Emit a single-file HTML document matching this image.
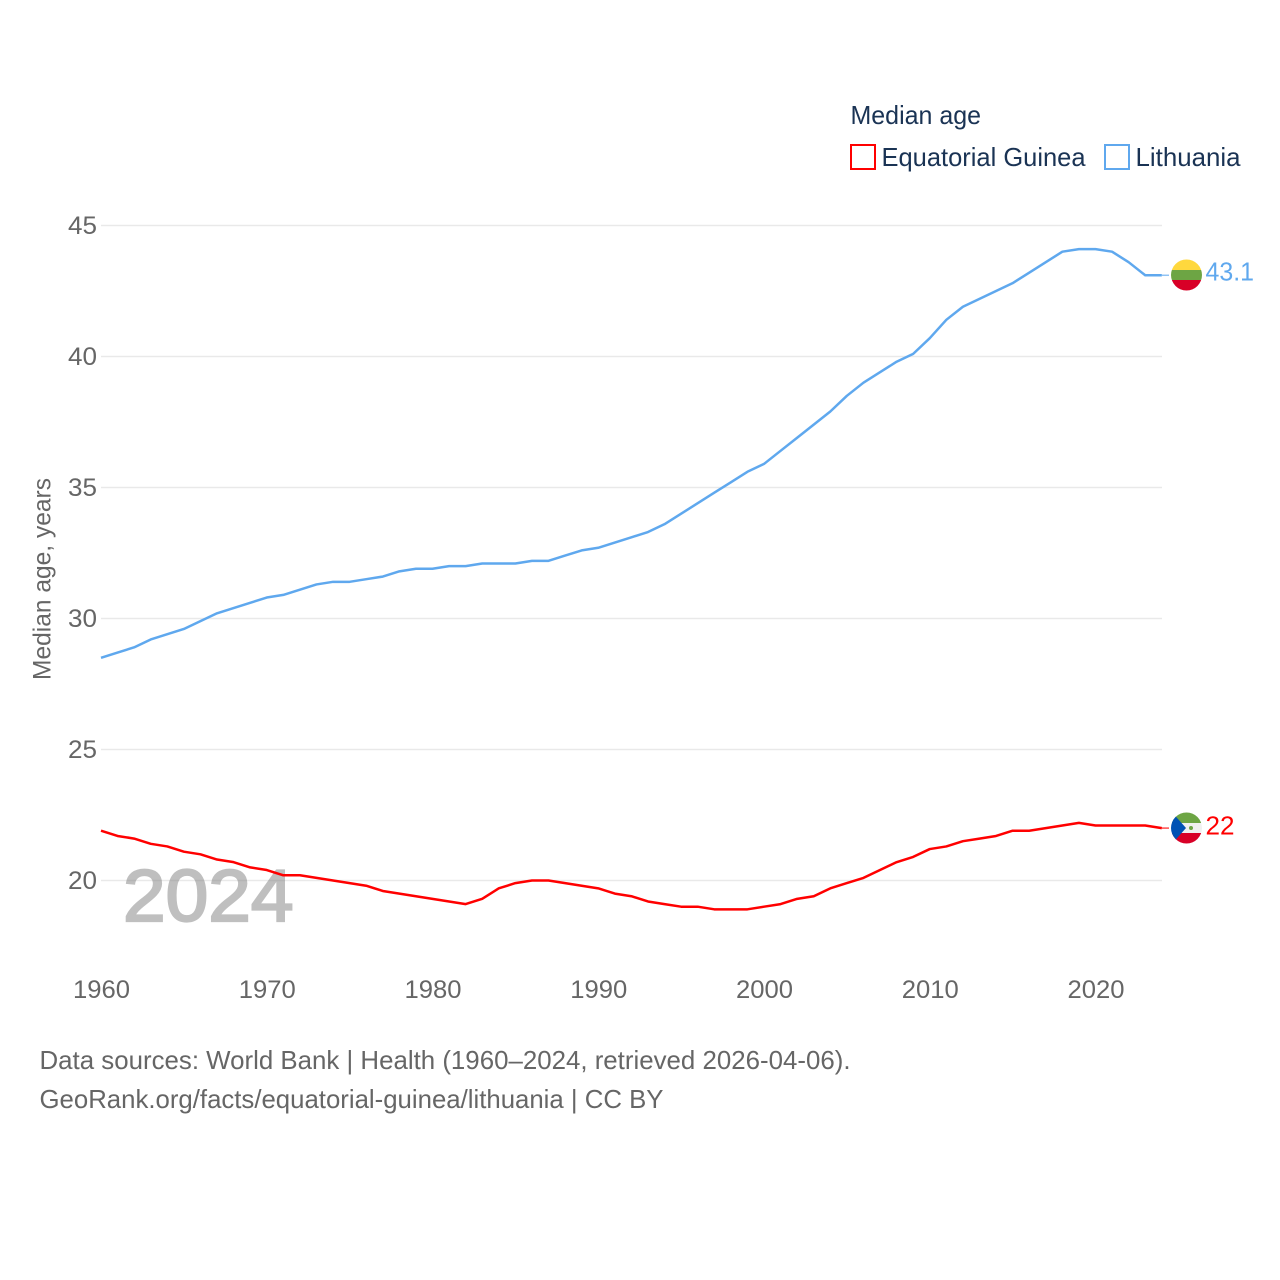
<!DOCTYPE html>
<html lang="en">
<head>
<meta charset="utf-8">
<title>Median age: Equatorial Guinea and Lithuania</title>
<style>
html,body{margin:0;padding:0;background:#fff;width:1280px;height:1280px;overflow:hidden}
svg{display:block}
text{font-family:"Liberation Sans",sans-serif}
</style>
</head>
<body>
<svg id="chart" xmlns="http://www.w3.org/2000/svg" width="1280" height="1280" viewBox="0 0 1280 1280">
  <rect width="1280" height="1280" fill="#fff"/>
  <g id="grid"></g>
  <text x="123" y="921" font-size="73" fill="#808080" stroke="#808080" stroke-width="2.2" opacity="0.5" textLength="170.5" lengthAdjust="spacingAndGlyphs">2024</text>
  <g id="yticks"></g>
  <g id="xticks"></g>
  <text transform="translate(50.5,680) rotate(-90)" font-size="25" fill="#666666" textLength="202" lengthAdjust="spacingAndGlyphs">Median age, years</text>
  <g id="series"></g>

  <g>
    <text x="850.5" y="124" font-size="26" fill="#1a3354" textLength="130.5" lengthAdjust="spacingAndGlyphs">Median age</text>
    <g>
      <rect x="851" y="145" width="24" height="24" fill="#fff" stroke="#ff0000" stroke-width="2"/>
      <text x="881.5" y="166" font-size="26" fill="#1a3354" textLength="204" lengthAdjust="spacingAndGlyphs">Equatorial Guinea</text>
    </g>
    <g>
      <rect x="1105" y="145" width="24" height="24" fill="#fff" stroke="#5fa8ee" stroke-width="2"/>
      <text x="1135.5" y="166" font-size="26" fill="#1a3354" textLength="105" lengthAdjust="spacingAndGlyphs">Lithuania</text>
    </g>
  </g>

  <defs>
    <clipPath id="clip-lt"><circle cx="1186.5" cy="275" r="15.5"/></clipPath>
    <clipPath id="clip-gq"><circle cx="1186.5" cy="828" r="15.5"/></clipPath>
  </defs>
  <g clip-path="url(#clip-lt)">
    <rect x="1170" y="259" width="34" height="11" fill="#ffd83d"/>
    <rect x="1170" y="270" width="34" height="10" fill="#6da544"/>
    <rect x="1170" y="280" width="34" height="12" fill="#d80027"/>
  </g>
  <g clip-path="url(#clip-gq)">
    <rect x="1170" y="812" width="34" height="11" fill="#6da544"/>
    <rect x="1170" y="823" width="34" height="10" fill="#f0f0f0"/>
    <rect x="1170" y="833" width="34" height="12" fill="#d80027"/>
    <polygon points="1170,810 1186,828 1170,846" fill="#0052b4"/>
    <circle cx="1191" cy="828" r="2" fill="#6da544"/>
  </g>
  <text x="1205.5" y="280.5" font-size="26" fill="#5fa8ee" textLength="48.5" lengthAdjust="spacingAndGlyphs">43.1</text>
  <text x="1205.5" y="834.5" font-size="26" fill="#ff0000" textLength="29" lengthAdjust="spacingAndGlyphs">22</text>

  <g>
    <text x="39.5" y="1069" font-size="26" fill="#666666" textLength="811" lengthAdjust="spacingAndGlyphs">Data sources: World Bank | Health (1960–2024, retrieved 2026-04-06).</text>
    <text x="39.5" y="1108" font-size="26" fill="#666666" textLength="624" lengthAdjust="spacingAndGlyphs">GeoRank.org/facts/equatorial-guinea/lithuania | CC BY</text>
  </g>
</svg>
<script>
const startYear = 1960;
const lithuaniaValues = [28.5,28.7,28.9,29.2,29.4,29.6,29.9,30.2,30.4,30.6,30.8,30.9,31.1,31.3,31.4,31.4,31.5,31.6,31.8,31.9,31.9,32.0,32.0,32.1,32.1,32.1,32.2,32.2,32.4,32.6,32.7,32.9,33.1,33.3,33.6,34.0,34.4,34.8,35.2,35.6,35.9,36.4,36.9,37.4,37.9,38.5,39.0,39.4,39.8,40.1,40.7,41.4,41.9,42.2,42.5,42.8,43.2,43.6,44.0,44.1,44.1,44.0,43.6,43.1,43.1];
const equatorialGuineaValues = [21.9,21.7,21.6,21.4,21.3,21.1,21.0,20.8,20.7,20.5,20.4,20.2,20.2,20.1,20.0,19.9,19.8,19.6,19.5,19.4,19.3,19.2,19.1,19.3,19.7,19.9,20.0,20.0,19.9,19.8,19.7,19.5,19.4,19.2,19.1,19.0,19.0,18.9,18.9,18.9,19.0,19.1,19.3,19.4,19.7,19.9,20.1,20.4,20.7,20.9,21.2,21.3,21.5,21.6,21.7,21.9,21.9,22.0,22.1,22.2,22.1,22.1,22.1,22.1,22.0];
const yTickValues = [20,25,30,35,40,45];
const xTickValues = [1960,1970,1980,1990,2000,2010,2020];

const NS = 'http://www.w3.org/2000/svg';
function xScale(year){ return 101 + (year - 1960) * (1095.5 - 101) / 60; }
function yScale(v){ return 880.5 - (v - 20) * (880.5 - 225.5) / 25; }

const gridGroup = document.getElementById('grid');
const yTickGroup = document.getElementById('yticks');
const xTickGroup = document.getElementById('xticks');
const seriesGroup = document.getElementById('series');

yTickValues.forEach(function(v){
  const line = document.createElementNS(NS,'line');
  
  
  line.setAttribute('x1', 101);
  line.setAttribute('x2', 1162);
  line.setAttribute('y1', yScale(v));
  line.setAttribute('y2', yScale(v));
  line.setAttribute('stroke', '#e9e9e9');
  line.setAttribute('stroke-width', '1.5');
  gridGroup.appendChild(line);

  const label = document.createElementNS(NS,'text');
  
  
  label.setAttribute('x', 68);
  label.setAttribute('y', yScale(v) + 8.5);
  label.setAttribute('font-size', '25');
  label.setAttribute('fill', '#666666');
  label.setAttribute('textLength', '29');
  label.setAttribute('lengthAdjust', 'spacingAndGlyphs');
  label.textContent = v;
  yTickGroup.appendChild(label);
});

xTickValues.forEach(function(yr){
  const label = document.createElementNS(NS,'text');
  
  
  label.setAttribute('x', xScale(yr) - 28);
  label.setAttribute('y', 998);
  label.setAttribute('font-size', '25');
  label.setAttribute('fill', '#666666');
  label.setAttribute('textLength', '57');
  label.setAttribute('lengthAdjust', 'spacingAndGlyphs');
  label.textContent = yr;
  xTickGroup.appendChild(label);
});

function drawSeries(values, color, name){
  const pts = values.map(function(v,i){
    return xScale(startYear + i).toFixed(2) + ',' + yScale(v).toFixed(2);
  }).join(' ');
  const line = document.createElementNS(NS,'polyline');
  
  
  line.setAttribute('points', pts);
  line.setAttribute('fill', 'none');
  line.setAttribute('stroke', color);
  line.setAttribute('stroke-width', '2.5');
  line.setAttribute('stroke-linejoin', 'round');
  seriesGroup.appendChild(line);

  const last = values[values.length - 1];
  const stub = document.createElementNS(NS,'line');
  
  
  stub.setAttribute('x1', xScale(startYear + values.length - 1));
  stub.setAttribute('x2', 1169);
  stub.setAttribute('y1', yScale(last));
  stub.setAttribute('y2', yScale(last));
  stub.setAttribute('stroke', color);
  stub.setAttribute('stroke-width', '1.5');
  stub.setAttribute('stroke-opacity', '0.7');
  seriesGroup.appendChild(stub);
}
drawSeries(equatorialGuineaValues, '#ff0000', 'line-equatorial-guinea');
drawSeries(lithuaniaValues, '#5fa8ee', 'line-lithuania');
</script>
</body>
</html>
